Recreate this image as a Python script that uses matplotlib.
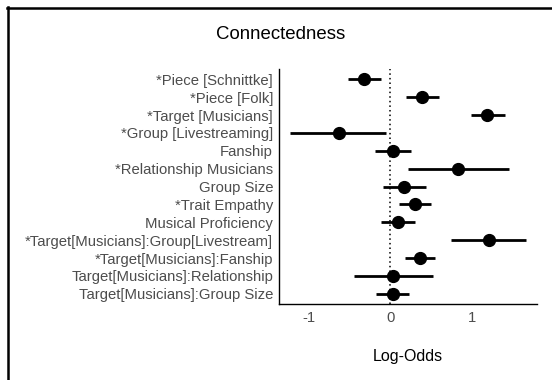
import matplotlib.pyplot as plt
from matplotlib.lines import Line2D

terms = [
    "*Piece [Schnittke]",
    "*Piece [Folk]",
    "*Target [Musicians]",
    "*Group [Livestreaming]",
    "Fanship",
    "*Relationship Musicians",
    "Group Size",
    "*Trait Empathy",
    "Musical Proficiency",
    "*Target[Musicians]:Group[Livestream]",
    "*Target[Musicians]:Fanship",
    "Target[Musicians]:Relationship",
    "Target[Musicians]:Group Size",
]
estimate = [-0.32, 0.39, 1.18, -0.63, 0.03, 0.83, 0.17, 0.30, 0.09, 1.20, 0.36, 0.03, 0.03]
ci_low = [-0.52, 0.19, 0.98, -1.22, -0.19, 0.22, -0.09, 0.10, -0.12, 0.74, 0.18, -0.45, -0.17]
ci_high = [-0.12, 0.59, 1.40, -0.05, 0.25, 1.45, 0.43, 0.50, 0.30, 1.65, 0.54, 0.52, 0.23]
xticks = [-1, 0, 1]

plt.rcParams['font.family'] = ['Liberation Sans', 'DejaVu Sans']

fig = plt.figure(figsize=(5.52, 3.80), dpi=100)
ax = fig.add_axes([0.5054, 0.1992, 0.4674, 0.6184])

ypos = list(range(len(terms)))
ax.axvline(0, color='black', linestyle=(0, (1, 2)), linewidth=1.1, zorder=1)
ax.hlines(ypos, ci_low, ci_high, color='black', linewidth=2.0, zorder=2)
ax.plot(estimate, ypos, 'o', color='black', markersize=8.5, zorder=3)

ax.set_xlim(-1.36, 1.79)
ax.set_ylim(len(terms) - 1 + 0.59, -0.56)
ax.set_yticks(ypos)
ax.set_yticklabels(terms, fontsize=10.7, color='#4d4d4d')
ax.set_xticks(xticks)
ax.set_xticklabels([str(t) for t in xticks], fontsize=10.7, color='#4d4d4d')
ax.tick_params(axis='y', length=0, pad=4.3)
ax.tick_params(axis='x', length=0, pad=5.0)
for side in ['top', 'right']:
    ax.spines[side].set_visible(False)
for side in ['left', 'bottom']:
    ax.spines[side].set_linewidth(1.0)

fig.text(0.509, 0.910, "Connectedness", ha='center', va='center', fontsize=13.4)
fig.text(0.738, 0.063, "Log-Odds", ha='center', va='center', fontsize=11.5)

# screenshot frame on the left and top
fig.add_artist(Line2D([0.0145, 0.0145], [0.0, 0.981], transform=fig.transFigure, color='black', linewidth=1.8))
fig.add_artist(Line2D([0.0127, 1.0], [0.980, 0.980], transform=fig.transFigure, color='black', linewidth=1.8))

fig.savefig("out.png", dpi=100)
